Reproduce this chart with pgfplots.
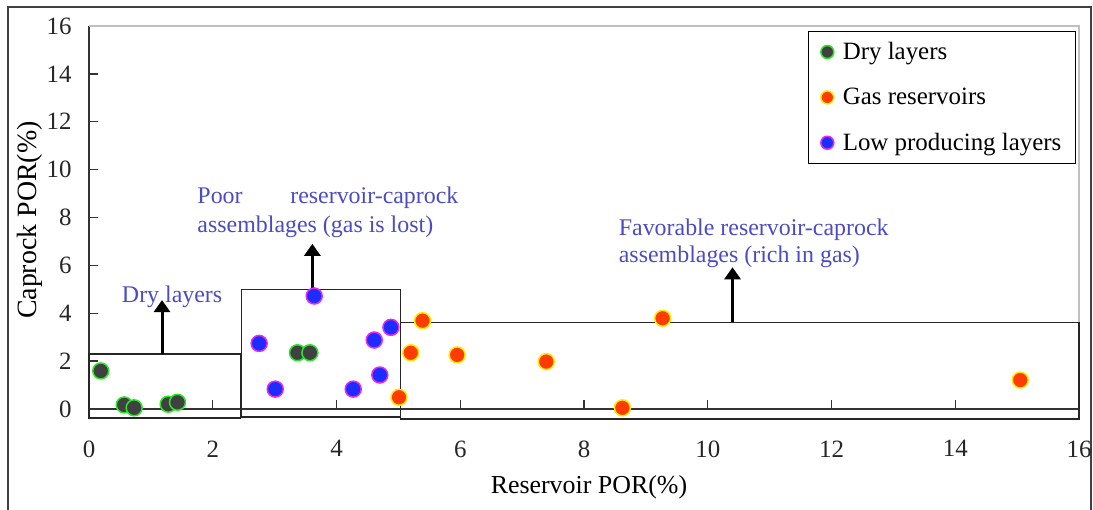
\documentclass[border=0pt]{standalone}
\usepackage{fontspec}
\setmainfont{Liberation Serif}
\usepackage{pgfplots}
\pgfplotsset{compat=1.18}
\usetikzlibrary{arrows.meta}
\definecolor{annot}{RGB}{75,75,195}
\definecolor{dryfill}{RGB}{64,64,64}
\definecolor{dryedge}{RGB}{40,230,40}
\definecolor{gasfill}{RGB}{255,60,0}
\definecolor{gasedge}{RGB}{255,235,0}
\definecolor{lowfill}{RGB}{30,45,255}
\definecolor{lowedge}{RGB}{235,40,235}
\begin{document}
\begin{tikzpicture}[x=1bp,y=1bp]
\useasboundingbox (0,0) rectangle (1093,510);
\draw[line width=1.5bp, black!75] (8,-3) -- (8,503) -- (1091,503) -- (1091,-3);
\begin{axis}[
  at={(89bp,101bp)}, anchor=south west,
  scale only axis, width=990bp, height=383bp,
  xmin=0, xmax=16, ymin=0, ymax=16,
  xtick={0,2,...,16}, ytick={0,2,...,16},
  axis x line*=bottom, axis y line*=left,
  axis line style={line width=1.5bp, black!80, -},
  tick align=inside, major tick length=9bp,
  tick style={line width=1.3bp, black!80},
  clip=false,
  /pgf/number format/assume math mode=true,
  tick label style={font=\fontsize{25}{30}\selectfont, text=black!85},
  xticklabel style={yshift=-28bp},
  yticklabel style={xshift=-14bp},
  xlabel={Reservoir POR(\%)}, ylabel={Caprock POR(\%)},
  xlabel style={at={(axis description cs:0.505,-0.204)}, anchor=center, font=\fontsize{26}{30}\selectfont},
  ylabel style={at={(axis description cs:-0.0596,0.493)}, anchor=center, font=\fontsize{28}{32}\selectfont},
  legend style={at={(rel axis cs:0.997,0.987)}, anchor=north east, draw=black, line width=1.3bp,
    font=\fontsize{25}{30}\selectfont, inner xsep=12bp, inner ysep=11bp, row sep=27bp, column sep=7bp, fill=white,
    nodes={inner xsep=2bp, inner ysep=0bp}},
  legend cell align=left,
  legend image code/.code={\draw[#1, mark size=6.5bp] plot coordinates {(0bp,0bp)};},
]
% plot-area border (top and right)
\draw[gray!50, line width=1.5bp] (axis cs:0,16) -- (axis cs:16,16) -- (axis cs:16,0);
% zone boxes
\draw[line width=1.3bp, black!85] (axis cs:0,-0.37) rectangle (axis cs:2.45,2.3);
\draw[line width=1.3bp, black!85] (axis cs:2.47,-0.33) rectangle (axis cs:5.03,5.0);
\draw[line width=1.3bp, black!85] (axis cs:5.03,-0.42) rectangle (axis cs:16,3.62);

\addplot[only marks, mark=*, mark size=8bp, mark options={fill=dryfill, draw=dryedge, line width=1.5bp}]
  coordinates {(0.19,1.59) (0.57,0.17) (0.73,0.05) (1.28,0.20) (1.43,0.28) (3.37,2.35) (3.57,2.35)};
\addlegendentry{Dry layers}
\addplot[only marks, mark=*, mark size=8bp, mark options={fill=gasfill, draw=gasedge, line width=1.5bp}]
  coordinates {(5.01,0.49) (5.20,2.35) (5.39,3.69) (5.95,2.26) (7.39,1.98) (9.27,3.79) (8.62,0.05) (15.05,1.21)};
\addlegendentry{Gas reservoirs}
\addplot[only marks, mark=*, mark size=8bp, mark options={fill=lowfill, draw=lowedge, line width=1.5bp}]
  coordinates {(2.75,2.74) (3.01,0.83) (3.64,4.72) (4.27,0.83) (4.61,2.88) (4.70,1.42) (4.88,3.41)};
\addlegendentry{Low producing layers}

% arrows
\draw[line width=3bp, -{Triangle[length=12bp,width=16bp]}] (axis cs:1.18,2.3) -- (axis cs:1.18,4.55);
\draw[line width=3bp, -{Triangle[length=12bp,width=16bp]}] (axis cs:3.61,4.67) -- (axis cs:3.61,6.9);
\draw[line width=3bp, -{Triangle[length=12bp,width=16bp]}] (axis cs:10.4,3.62) -- (axis cs:10.4,5.92);

% annotations
\begin{scope}[every node/.style={inner sep=0pt, anchor=base west, text=annot, font=\fontsize{24}{29}\selectfont}]
\node at (axis cs:0.53,4.44) {Dry layers};
\node at (axis cs:1.75,8.60) {Poor};
\node at (axis cs:3.25,8.60) {reservoir-caprock};
\node at (axis cs:1.75,7.39) {assemblages (gas is lost)};
\node at (axis cs:8.56,7.23) {Favorable reservoir-caprock};
\node at (axis cs:8.56,6.10) {assemblages (rich in gas)};
\end{scope}
\end{axis}
\end{tikzpicture}
\end{document}
